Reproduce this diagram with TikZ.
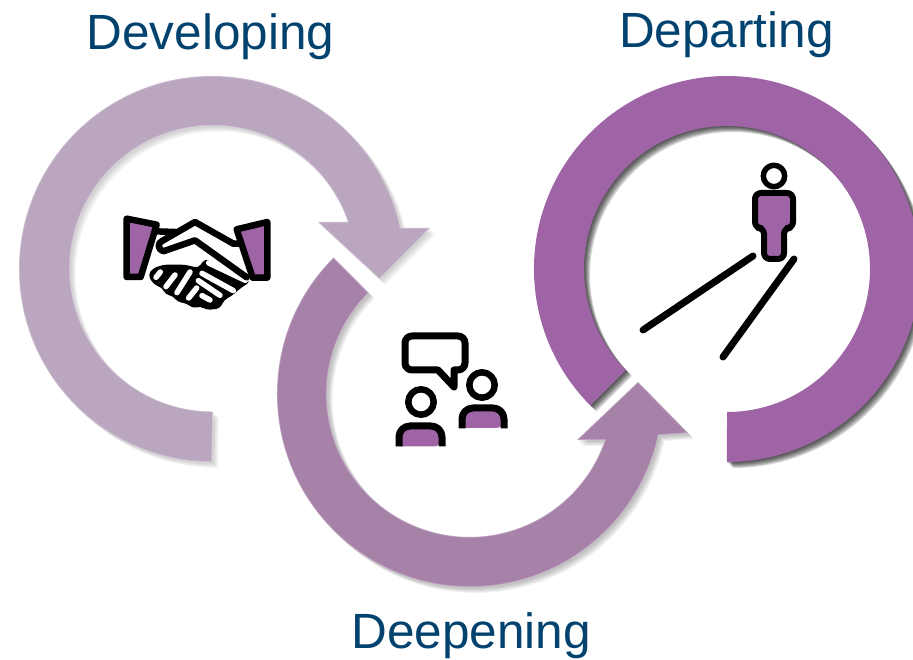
\documentclass[tikz,border=0pt]{standalone}
\usepackage{fontspec}
\setmainfont{Liberation Sans}
\usepackage{xcolor}
\usetikzlibrary{calc}
\definecolor{titleblue}{HTML}{02426F}
\definecolor{devpurple}{HTML}{BAA7BF}
\definecolor{deeppurple}{HTML}{A682A9}
\definecolor{deptpurple}{HTML}{9E64A6}
\tikzstyle{title}=[
  text=titleblue,font=\fontsize{49.5}{50}\selectfont,anchor=base,inner sep=0pt
]
\tikzstyle{icon}=[
  black,line width=7pt,line join=round
]
\tikzstyle{handicon}=[
  shift={(120,448)},x=0.3333pt,y=-0.3333pt,black,line width=6.5pt,line join=round,line cap=round
]
\tikzstyle{slit}=[
  white,line width=5.5pt
]
\newcommand{\devring}{(212,198) arc (270:12.3:193) -- (430,432) -- (379.5,381) -- (318,438) -- (348,438) arc (19:270:143) -- cycle}
\newcommand{\deepring}{(333.5,402.5) arc (135:347.7:193) -- (688,227) -- (638,278) -- (577,220) -- (605,220) arc (341.2:135:143) -- cycle}
\newcommand{\deptring}{(590.5,254.5) arc (225:-90:193) -- (727,248) arc (-90:225:143) -- cycle}
\begin{document}
\begin{tikzpicture}[x=1pt,y=1pt]
  \useasboundingbox (0,0) rectangle (913,660);
  % soft shadows, light ones first
  \foreach \d in {1,2,3,4,5,6} {
    \fill[black,opacity=0.035,shift={(\d,-\d)}] \devring;
    \fill[black,opacity=0.05,shift={(\d,-\d)}] \deepring;
  }
  \foreach \d in {1,2,3,4,5,6} {
    \fill[black,opacity=0.16,shift={(\d,-\d)}] \deptring;
  }
  \fill[devpurple] \devring;
  \draw[white,opacity=0.25,line width=1.5pt] \devring;
  \fill[deeppurple] \deepring;
  \draw[white,opacity=0.25,line width=1.5pt] \deepring;
  \fill[deptpurple] \deptring;
  % titles
  \node (developing) at (210.5,610) [title] {Developing};
  \node (departing) at (726.5,612) [title] {Departing};
  \node (deepening) at (471,11) [title] {Deepening};
  % handshake
  \begin{scope}[handicon]
    \fill[white] (105,55) -- (165,60) -- (225,30) -- (340,95) -- (358,95) -- (395,205) -- (330,245) -- (300,280)
      -- (245,285) -- (190,270) -- (140,240) -- (85,190) -- cycle;
    % lower hand, black with white slits
    \fill[black,rounded corners=4pt] (84,190) -- (97,170) -- (130,158) -- (195,158) -- (235,168) -- (255,140)
      -- (392,208) -- (360,230) -- (335,252) -- (312,264) -- (300,290) -- (258,294) -- (242,282) -- (220,290)
      -- (200,274) -- (172,270) -- (160,252) -- (136,248) -- (128,228) -- (102,218) -- cycle;
    \draw[slit] (108,196) -- (121,180);
    \draw[slit] (138,224) -- (165,189);
    \draw[slit] (171,242) -- (210,180);
    \draw[slit] (206,258) -- (230,228);
    \draw[slit] (246,251) -- (270,264);
    \draw[slit] (266,153) -- (376,205);
    \draw[slit] (246,184) -- (340,236);
    \draw[slit] (235,206) -- (300,250);
    % upper hand
    \draw (105,58) -- (165,60) (340,95) -- (358,95);
    \draw (380,196) -- (225,85) -- (130,118) .. controls (112,112) and (112,92) .. (128,86) -- (225,30) -- (340,95);
    % cuffs
    \draw[fill=deptpurple] (20,20) -- (110,38) -- (62,195) -- (20,195) -- cycle;
    \draw[fill=deptpurple] (350,52) -- (442,30) -- (442,197) -- (398,197) -- cycle;
  \end{scope}
  % two people talking
  \draw[icon,miter limit=8] (454,273) -- (454,290) -- (458,290) arc (-90:0:7) -- (465,317) arc (0:90:7) -- (412,324) arc (90:180:7) -- (405,297) arc (180:270:7) -- (438,290) -- cycle;
  \draw[icon,line width=6.5pt] (482,275) circle (12.7);
  \draw[icon,line width=6.5pt] (421,258) circle (12.7);
  \fill[deptpurple,rounded corners=8pt] (462,232) -- (462,252) -- (504,252) -- (504,232) [sharp corners] -- cycle;
  \draw[icon,rounded corners=11pt] (462,231.5) -- (462,252) -- (504,252) -- (504,231.5);
  \fill[deptpurple,rounded corners=8pt] (399,213.5) -- (399,234) -- (442,234) -- (442,213.5) [sharp corners] -- cycle;
  \draw[icon,rounded corners=11pt] (399,213.5) -- (399,234) -- (442,234) -- (442,213.5);
  % walker on the road
  \draw[icon,line width=5.5pt] (774,484) circle (10.7);
  \draw[icon,line width=6pt,fill=deptpurple,rounded corners=6pt] (755,467) -- (755,432) -- (764,432) -- (764,401) -- (784,401) -- (784,432) -- (793,432) -- (793,467) -- cycle;
  \draw[icon,line cap=round] (643,330) -- (753,404);
  \draw[icon,line cap=round] (723,303) -- (794,401);
\end{tikzpicture}
\end{document}
